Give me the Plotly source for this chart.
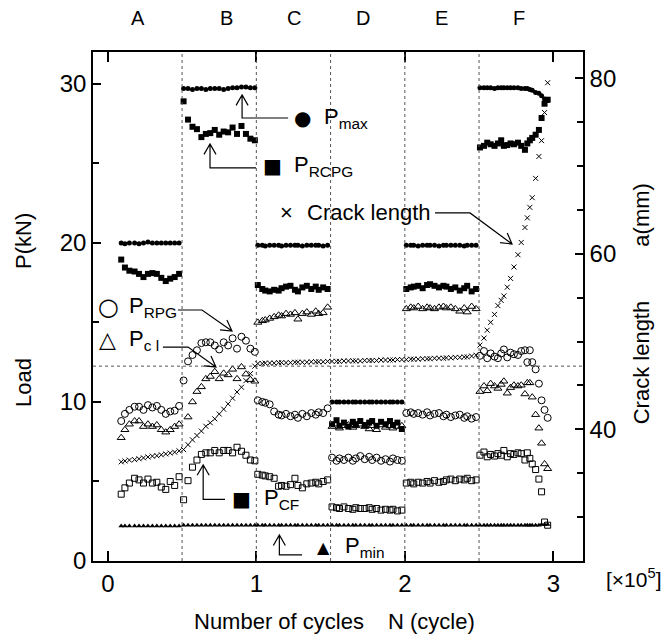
import math
import plotly.graph_objects as go

FONT = "Liberation Sans, Arial, Helvetica, sans-serif"

# Number of cycles (x 10^5) at which the loads and crack length were recorded,
# block by block (A: 0-0.5, B: 0.5-1.0, C: 1.0-1.5, D: 1.5-2.0, E: 2.0-2.5, F: 2.5-)
cycles_A = [0.09, 0.115, 0.145, 0.18, 0.21, 0.24, 0.27, 0.30, 0.33, 0.36, 0.39, 0.42, 0.45, 0.48]
cycles_B = [0.51, 0.54, 0.57, 0.60, 0.63, 0.66, 0.69, 0.72, 0.75, 0.78, 0.81, 0.84, 0.87, 0.90,
            0.93, 0.96, 0.99]
cycles_C = [1.01, 1.04, 1.06, 1.09, 1.12, 1.15, 1.17, 1.20, 1.23, 1.26, 1.28, 1.31, 1.34, 1.37,
            1.40, 1.42, 1.45, 1.48]
cycles_D = [1.51, 1.54, 1.56, 1.59, 1.62, 1.65, 1.67, 1.70, 1.73, 1.76, 1.78, 1.81, 1.84, 1.87,
            1.90, 1.92, 1.95, 1.98]
cycles_E = [2.01, 2.04, 2.06, 2.09, 2.12, 2.15, 2.17, 2.20, 2.23, 2.26, 2.28, 2.31, 2.34, 2.37,
            2.40, 2.42, 2.45, 2.48]
cycles_F = [2.506, 2.533, 2.555, 2.578, 2.604, 2.627, 2.649, 2.667, 2.690, 2.712, 2.735, 2.762,
            2.784, 2.809, 2.825, 2.842, 2.858, 2.881, 2.903, 2.921, 2.941, 2.962]

# Loads (kN)
p_max = {
    "A": [20.0, 19.95, 20.0, 20.0, 19.95, 20.0, 20.05, 20.0, 20.0, 20.0, 20.0, 20.0, 20.0, 20.0],
    "B": [29.7, 29.7, 29.65, 29.7, 29.7, 29.65, 29.7, 29.7, 29.7, 29.65, 29.7, 29.75, 29.75, 29.8,
          29.8, 29.75, 29.75],
    "C": [19.85, 19.85, 19.8, 19.85, 19.85, 19.85, 19.8, 19.85, 19.85, 19.85, 19.85, 19.8, 19.85,
          19.85, 19.85, 19.85, 19.8, 19.85],
    "D": [10.0, 10.0, 10.0, 10.0, 10.0, 10.0, 10.0, 10.0, 10.0, 10.0, 10.0, 10.0, 10.0, 10.0,
          10.0, 10.0, 10.0, 10.0],
    "E": [19.85, 19.85, 19.85, 19.8, 19.85, 19.85, 19.85, 19.85, 19.8, 19.85, 19.85, 19.85, 19.85,
          19.85, 19.8, 19.85, 19.85, 19.85],
    "F": [29.75, 29.75, 29.75, 29.75, 29.7, 29.75, 29.75, 29.75, 29.75, 29.75, 29.75, 29.75, 29.7,
          29.7, 29.7, 29.65, 29.6, 29.45, 29.4, 29.25, 29.05, 28.95],
}
p_rcpg = {
    "A": [18.95, 18.45, 18.25, 18.2, 18.05, 17.85, 18.05, 18.1, 18.05, 17.8, 17.6, 17.75, 17.85, 18.05],
    "B": [28.9, 27.75, 27.3, 27.15, 26.65, 26.85, 26.9, 27.1, 26.8, 27.0, 26.95, 27.25, 26.85, 27.35,
          26.85, 26.55, 26.45],
    "C": [17.35, 17.1, 17.0, 16.95, 17.05, 17.0, 17.15, 17.25, 17.3, 17.05, 16.95, 17.2, 17.3, 17.1,
          17.25, 17.05, 17.2, 17.1],
    "D": [8.6, 8.85, 8.5, 8.7, 8.45, 8.75, 8.6, 8.8, 8.55, 8.7, 8.8, 8.5, 8.75, 8.6, 8.8, 8.55, 8.7, 8.3],
    "E": [17.1, 17.2, 17.25, 17.3, 17.15, 17.35, 17.4, 17.3, 17.2, 17.3, 17.25, 17.1, 17.2, 17.0,
          17.15, 17.3, 16.95, 17.1],
    "F": [26.0, 26.1, 26.3, 26.2, 26.1, 26.25, 26.45, 26.1, 26.15, 26.25, 26.2, 26.3, 26.1, 25.85,
          26.25, 26.45, 26.6, 26.8, 27.1, 27.85, 28.75, 29.0],
}
p_rpg = {
    "A": [8.8, 9.25, 9.5, 9.7, 9.7, 9.5, 9.8, 9.65, 9.75, 9.5, 9.25, 9.4, 9.45, 9.75],
    "B": [11.35, 12.55, 12.95, 13.25, 13.7, 13.75, 13.75, 13.55, 13.3, 13.75, 13.55, 14.0, 13.35,
          14.1, 13.85, 13.35, 13.15],
    "C": [10.1, 10.0, 9.95, 9.85, 9.4, 9.2, 9.15, 9.25, 9.1, 9.2, 9.0, 9.25, 9.1, 9.3, 9.2, 9.35,
          9.3, 9.6],
    "D": [6.5, 6.3, 6.45, 6.35, 6.5, 6.3, 6.45, 6.6, 6.4, 6.55, 6.35, 6.5, 6.3, 6.4, 6.25, 6.45,
          6.35, 6.3],
    "E": [9.3, 9.35, 9.25, 9.3, 9.2, 9.35, 9.15, 9.25, 9.3, 9.1, 9.2, 9.05, 9.15, 9.2, 9.0, 9.1,
          8.95, 9.05],
    "F": [12.9, 13.2, 12.75, 13.05, 12.85, 12.75, 13.05, 13.3, 12.8, 13.1, 13.0, 12.95, 13.2, 13.25,
          12.5, 13.25, 12.5, 12.05, 11.15, 10.1, 9.5, 9.0],
}
p_cl = {
    "A": [7.75, 8.25, 8.6, 8.8, 8.8, 8.45, 8.6, 8.45, 8.55, 8.25, 8.1, 8.25, 8.45, 8.6],
    "B": [None, 9.05, 10.0, 10.65, 10.95, 11.45, 11.6, 11.9, 11.45, 11.8, 11.7, 12.05, 11.45, 12.2,
          11.75, 11.4, 11.3],
    "C": [15.0, 15.1, 15.15, 15.25, 15.35, 15.45, 15.4, 15.55, 15.5, 15.6, 15.2, 15.55, 15.65, 15.5,
          15.7, 15.55, 15.6, 15.95],
    "D": [8.45, 8.6, 8.35, 8.5, 8.55, 8.4, 8.5, 8.6, 8.45, 8.3, 8.5, 8.25, 8.55, 8.4, 8.5, 8.35,
          8.45, 8.5],
    "E": [15.85, 15.95, 15.9, 16.0, 15.85, 15.95, 15.9, 15.85, 15.95, 16.0, 15.9, 15.95, 15.85,
          15.7, 15.9, 15.65, 16.0, 15.85],
    "F": [10.65, 11.0, 10.7, 11.15, 11.0, 10.85, 11.1, 11.3, 10.55, 10.9, 11.05, 11.0, 11.05, 10.5,
          11.2, 11.2, 10.3, 9.2, 8.35, 7.4, 6.1, 5.8],
}
p_cf = {
    "A": [4.2, 4.6, 4.9, 5.2, 5.1, 4.9, 5.15, 4.9, 4.95, 4.65, 4.5, 5.0, 4.75, 5.3],
    "B": [3.85, 5.05, 5.9, 6.35, 6.7, 6.8, 6.8, 6.95, 6.8, 6.95, 6.95, 6.8, 7.15, 6.9, 6.65, 6.35, 6.3],
    "C": [5.45, 5.4, 5.35, 5.3, 5.2, 4.7, 4.75, 4.7, 4.8, 5.2, 4.75, 4.6, 4.85, 4.9, 4.95, 4.85,
          5.0, 5.1],
    "D": [3.4, 3.35, 3.3, 3.4, 3.3, 3.25, 3.35, 3.3, 3.3, 3.35, 3.25, 3.3, 3.2, 3.25, 3.2, 3.25,
          3.15, 3.2],
    "E": [4.9, 4.95, 4.85, 4.95, 4.9, 5.0, 4.9, 5.05, 4.95, 5.0, 5.1, 5.15, 5.05, 5.15, 5.1, 5.2,
          5.05, 5.1],
    "F": [6.65, 6.85, 6.55, 6.7, 6.6, 6.75, 6.65, 6.95, 6.55, 6.75, 6.7, 6.8, 6.75, 6.35, 6.8, 6.45,
          6.1, 5.75, 5.15, 4.35, 2.45, 2.25],
}
p_min = {
    "A": [2.2, 2.2, 2.2, 2.2, 2.2, 2.2, 2.2, 2.2, 2.2, 2.2, 2.2, 2.2, 2.2, 2.2],
    "B": [2.25, 2.25, 2.25, 2.25, 2.25, 2.25, 2.25, 2.25, 2.25, 2.25, 2.25, 2.25, 2.25, 2.25,
          2.25, 2.25, 2.25],
    "C": [2.25, 2.25, 2.25, 2.25, 2.25, 2.25, 2.25, 2.25, 2.25, 2.25, 2.25, 2.25, 2.25, 2.25,
          2.25, 2.25, 2.25, 2.25],
    "D": [2.25, 2.25, 2.25, 2.25, 2.25, 2.25, 2.25, 2.25, 2.25, 2.25, 2.25, 2.25, 2.25, 2.25,
          2.25, 2.25, 2.25, 2.25],
    "E": [2.25, 2.25, 2.25, 2.25, 2.25, 2.25, 2.25, 2.25, 2.25, 2.25, 2.25, 2.25, 2.25, 2.25,
          2.25, 2.25, 2.25, 2.25],
    "F": [2.25, 2.25, 2.25, 2.25, 2.25, 2.25, 2.25, 2.25, 2.25, 2.25, 2.25, 2.25, 2.25, 2.25,
          2.25, 2.25, 2.25, 2.25, 2.25, 2.3, 2.3, 2.3],
}
# Crack length a (mm)
crack = {
    "A": [36.3, 36.4, 36.5, 36.55, 36.65, 36.75, 36.85, 36.95, 37.0, 37.1, 37.2, 37.3, 37.4, 37.55],
    "B": [37.7, 38.25, 38.8, 39.3, 39.8, 40.35, 40.75, 41.2, 41.75, 42.3, 42.9, 43.55, 44.25, 44.8,
          45.55, 46.35, 47.2],
    "C": [47.5, 47.5, 47.55, 47.55, 47.55, 47.6, 47.6, 47.6, 47.6, 47.65, 47.65, 47.65, 47.65, 47.7,
          47.7, 47.7, 47.7, 47.75],
    "D": [47.75, 47.75, 47.75, 47.8, 47.8, 47.8, 47.8, 47.8, 47.85, 47.85, 47.85, 47.85, 47.9, 47.9,
          47.9, 47.9, 47.95, 47.95],
    "E": [47.95, 48.0, 48.0, 48.0, 48.05, 48.05, 48.05, 48.1, 48.1, 48.1, 48.15, 48.15, 48.2, 48.2,
          48.25, 48.25, 48.35, 48.45],
    "F": [49.6, 50.4, 51.3, 52.2, 53.1, 54.1, 54.7, 55.2, 56.2, 57.2, 58.5, 59.9, 61.3, 63.0, 64.1,
          65.3, 66.4, 68.6, 71.1, 72.9, 76.1, 79.5],
}

blocks = ["A", "B", "C", "D", "E", "F"]
block_cycles = {"A": cycles_A, "B": cycles_B, "C": cycles_C, "D": cycles_D, "E": cycles_E, "F": cycles_F}
block_label_x = [0.205, 0.796, 1.254, 1.718, 2.25, 2.769]
block_bounds = [0.5, 1.0, 1.5, 2.0, 2.5]
reference_load = 12.25

x_tick_vals = [0, 1, 2, 3]


def flat(series):
    xs, ys = [], []
    for b in blocks:
        xs += block_cycles[b]
        ys += series[b]
    return xs, ys


fig = go.Figure()

load_series = [
    (p_max, dict(symbol="circle", size=5, color="black", line=dict(width=0))),
    (p_rcpg, dict(symbol="square", size=6, color="black", line=dict(width=0))),
    (p_rpg, dict(symbol="circle-open", size=7, color="black", line=dict(width=1, color="#222"))),
    (p_cl, dict(symbol="triangle-up-open", size=7, color="black", line=dict(width=1, color="#222"))),
    (p_cf, dict(symbol="square-open", size=6, color="black", line=dict(width=1, color="#222"))),
    (p_min, dict(symbol="triangle-up", size=5, color="black", line=dict(width=0))),
]
for series, marker in load_series:
    xs, ys = flat(series)
    fig.add_trace(go.Scatter(x=xs, y=ys, mode="markers", marker=marker,
                             showlegend=False, hoverinfo="skip"))

xs, ys = flat(crack)
fig.add_trace(go.Scatter(x=xs, y=ys, mode="markers", yaxis="y2",
                         marker=dict(symbol="x-thin", size=5, color="black",
                                     line=dict(width=1, color="black")),
                         showlegend=False, hoverinfo="skip"))

# plot geometry (used to size arrowheads in screen pixels)
W, H = 671, 637
M_L, M_R, M_T, M_B = 93, 88, 52, 76
X_RANGE = [-0.1, 3.2]
Y_RANGE = [0, 32]
Y2_RANGE = [25, 83]
XS = (W - M_L - M_R) / (X_RANGE[1] - X_RANGE[0])
YS = (H - M_T - M_B) / (Y_RANGE[1] - Y_RANGE[0])

shapes = []
for xb in block_bounds:
    shapes.append(dict(type="line", xref="x", yref="paper", x0=xb, x1=xb, y0=0, y1=1,
                       line=dict(color="#555", width=1, dash="dot")))
shapes.append(dict(type="line", xref="paper", yref="y", x0=0, x1=1, y0=reference_load,
                   y1=reference_load, line=dict(color="#555", width=1, dash="dot")))


def leader(points, arm_px=12, angle_deg=30):
    """Polyline ending in an open V arrowhead at the last point."""
    path = "M " + " L ".join(f"{x},{y}" for x, y in points)
    (fx, fy), (tx, ty) = points[-2], points[-1]
    dxp, dyp = (tx - fx) * XS, -(ty - fy) * YS
    n = math.hypot(dxp, dyp)
    bx, by = -dxp / n, -dyp / n
    arms = []
    for s in (1, -1):
        a = math.radians(angle_deg) * s
        rx = bx * math.cos(a) - by * math.sin(a)
        ry = bx * math.sin(a) + by * math.cos(a)
        arms.append((tx + rx * arm_px / XS, ty - ry * arm_px / YS))
    path += f" M {arms[0][0]},{arms[0][1]} L {tx},{ty} L {arms[1][0]},{arms[1][1]}"
    return dict(type="path", xref="x", yref="y", path=path,
                line=dict(color="black", width=1.2))


shapes += [
    leader([(1.214, 27.85), (0.904, 27.85), (0.904, 29.3)]),          # P_max
    leader([(0.998, 24.71), (0.688, 24.71), (0.688, 26.22)]),         # P_RCPG
    leader([(2.203, 21.88), (2.439, 21.88), (2.722, 19.93)]),         # crack length
    leader([(0.472, 15.78), (0.634, 15.78), (0.836, 14.46)]),         # P_RPG
    leader([(0.371, 13.45), (0.54, 13.45), (0.728, 12.2)]),           # P_cl
    leader([(0.789, 3.88), (0.642, 3.88), (0.642, 6.04)]),            # P_CF
    leader([(1.308, 0.38), (1.155, 0.38), (1.155, 1.63)]),            # P_min
]

lab = dict(family=FONT, size=22, color="black")
glyph = dict(family="DejaVu Sans, " + FONT, size=20, color="black")
annotations = []


def key(x, y, sym, text, text_x, sym_font=glyph):
    annotations.append(dict(x=x, y=y, xref="x", yref="y", text=sym, showarrow=False,
                            font=sym_font, xanchor="center", yanchor="middle"))
    annotations.append(dict(x=text_x, y=y, xref="x", yref="y", text=text, showarrow=False,
                            font=lab, xanchor="left", yanchor="middle"))


key(1.314, 27.85, "●", "P<sub>max</sub>", 1.44)
key(1.106, 24.83, "■", "P<sub>RCPG</sub>", 1.24)
key(1.20, 21.88, "×", "Crack length", 1.325, dict(family=FONT, size=22, color="black"))
key(0.003, 16.0, "○", "P<sub>RPG</sub>", 0.129, dict(family="DejaVu Sans", size=24, color="black"))
key(-0.004, 13.9, "△", "P<sub>c l</sub>", 0.129, dict(family="DejaVu Sans", size=22, color="black"))
key(0.903, 3.9, "■", "P<sub>CF</sub>", 1.038)
key(1.449, 0.88, "▲", "P<sub>min</sub>", 1.584, dict(family="DejaVu Sans", size=16, color="black"))

for name, bx in zip(blocks, block_label_x):
    annotations.append(dict(x=bx, y=1.0668, xref="x", yref="paper", text=name, showarrow=False,
                            font=dict(family=FONT, size=20, color="black"),
                            xanchor="center", yanchor="middle"))

annotations += [
    dict(x=0.3786, y=-0.118, xref="paper", yref="paper", text="Number of cycles",
         showarrow=False, font=lab, xanchor="center", yanchor="middle"),
    dict(x=0.6898, y=-0.118, xref="paper", yref="paper", text="N (cycle)",
         showarrow=False, font=lab, xanchor="center", yanchor="middle"),
    dict(x=1.104, y=-0.034, xref="paper", yref="paper", text="[×10<sup>5</sup>]",
         showarrow=False, font=dict(family=FONT, size=21, color="black"),
         xanchor="center", yanchor="middle"),
    dict(x=-0.141, y=0.6287, xref="paper", yref="paper", text="P(kN)", textangle=-90,
         showarrow=False, font=lab, xanchor="center", yanchor="middle"),
    dict(x=-0.141, y=0.3517, xref="paper", yref="paper", text="Load", textangle=-90,
         showarrow=False, font=lab, xanchor="center", yanchor="middle"),
    dict(x=1.12, y=0.68, xref="paper", yref="paper", text="a(mm)", textangle=-90,
         showarrow=False, font=lab, xanchor="center", yanchor="middle"),
    dict(x=1.12, y=0.39, xref="paper", yref="paper", text="Crack length", textangle=-90,
         showarrow=False, font=lab, xanchor="center", yanchor="middle"),
]

axis_common = dict(showgrid=False, zeroline=False, showline=True, linecolor="black",
                   linewidth=1.5, ticks="inside", tickcolor="black", tickwidth=1.5,
                   tickfont=dict(family=FONT, size=24, color="black"))

fig.update_layout(
    width=W, height=H,
    margin=dict(l=M_L, r=M_R, t=M_T, b=M_B),
    paper_bgcolor="white", plot_bgcolor="white",
    showlegend=False,
    xaxis=dict(range=X_RANGE, tickvals=x_tick_vals, ticklen=10, mirror="ticks", **axis_common),
    yaxis=dict(range=Y_RANGE, dtick=10, tick0=0, ticklen=8,
               minor=dict(dtick=5, tick0=0, ticks="inside", ticklen=6, tickcolor="black",
                          tickwidth=1.5),
               **axis_common),
    yaxis2=dict(range=Y2_RANGE, dtick=20, tick0=0, ticklen=8, overlaying="y", side="right",
                minor=dict(dtick=5, tick0=0, ticks="inside", ticklen=6, tickcolor="black",
                           tickwidth=1.5),
                **axis_common),
    shapes=shapes,
    annotations=annotations,
)

fig.write_html("out.html")
